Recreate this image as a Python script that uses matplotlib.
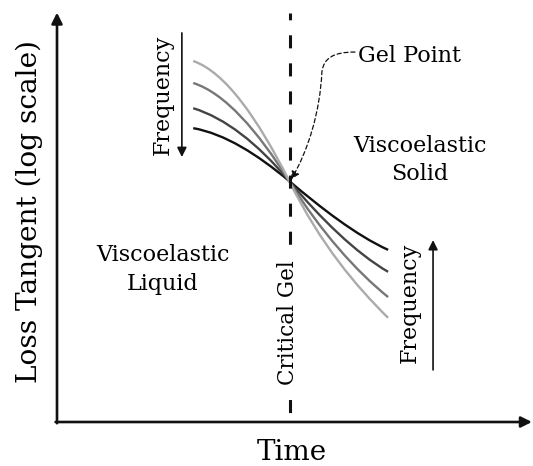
import matplotlib.pyplot as plt
from matplotlib.path import Path
from matplotlib.patches import PathPatch, FancyArrowPatch

plt.rcParams['font.family'] = ['DejaVu Serif']
plt.rcParams['lines.scale_dashes'] = False

# schematic units: time and log(tan delta) both run 0..100 along the arrows
gel_time = 49.1
gel_tan = 59.2

# bezier vertices (time, log tan delta) of each curve, low -> high frequency
curve_colors = ['#111111', '#444444', '#777777', '#ababab']
curve_time = [28.8, 35.5, 42.3, 49.1, 55.8, 63.2, 70.0]
curve_tan = [
    [72.2, 70.8, 65.8, 59.2, 52.6, 45.9, 42.3],
    [77.1, 74.7, 68.6, 59.2, 49.9, 41.5, 36.9],
    [83.3, 80.8, 71.7, 59.2, 46.7, 37.1, 30.7],
    [88.7, 86.0, 74.9, 59.2, 43.5, 33.4, 25.6],
]

# dashed leader from the "Gel Point" label down to the crossing
leader_time = [63.0, 58.5, 56.4, 56.0, 55.6, 53.0, 49.5]
leader_tan = [90.9, 90.9, 89.5, 86.0, 76.0, 66.5, 59.6]

fig = plt.figure(figsize=(5.33, 4.66), dpi=100)
ax = fig.add_axes([0, 0, 1, 1])
ax.set_xlim(-12.05, 100.63)
ax.set_ylim(-10.81, 103.69)
ax.axis('off')

codes = [Path.MOVETO] + [Path.CURVE4] * 6
for col, ys in zip(curve_colors, curve_tan):
    path = Path(list(zip(curve_time, ys)), codes)
    ax.add_patch(PathPatch(path, fc='none', ec=col, lw=1.7, capstyle='butt'))

# axes arrows
ax.annotate('', xy=(0, 100.6), xytext=(0, -0.3),
            arrowprops=dict(arrowstyle='-|>', lw=1.9, color='#111111',
                            mutation_scale=16, shrinkA=0, shrinkB=0))
ax.annotate('', xy=(100.4, 0), xytext=(-0.3, 0),
            arrowprops=dict(arrowstyle='-|>', lw=1.9, color='#111111',
                            mutation_scale=16, shrinkA=0, shrinkB=0))

# critical gel line
ax.plot([gel_time + 0.2, gel_time + 0.2], [100.6, 0.8], color='#111111',
        lw=2.2, ls=(4.5, (9.4, 10.8)))
ax.text(gel_time - 0.3, 24.3, 'Critical Gel', rotation=90, fontsize=15.5,
        ha='center', va='center',
        bbox=dict(fc='white', ec='none', pad=1))

ax.text(-5.95, 51.8, 'Loss Tangent (log scale)', rotation=90, fontsize=20.2,
        ha='center', va='center')
ax.text(49.7, -7.6, 'Time', fontsize=20, ha='center', va='center')

# frequency arrows
ax.annotate('', xy=(26.4, 65.1), xytext=(26.4, 95.6),
            arrowprops=dict(arrowstyle='-|>', lw=1.2, color='#111111',
                            mutation_scale=14, shrinkA=0, shrinkB=0))
ax.text(22.4, 80.3, 'Frequency', rotation=90, fontsize=16,
        ha='center', va='center')
ax.annotate('', xy=(79.5, 44.7), xytext=(79.5, 12.8),
            arrowprops=dict(arrowstyle='-|>', lw=1.2, color='#111111',
                            mutation_scale=14, shrinkA=0, shrinkB=0))
ax.text(74.6, 29.2, 'Frequency', rotation=90, fontsize=16,
        ha='center', va='center')

ax.text(76.7, 64.4, 'Viscoelastic\nSolid', fontsize=16, ha='center',
        va='center', linespacing=1.4)
ax.text(22.4, 37.4, 'Viscoelastic\nLiquid', fontsize=16, ha='center',
        va='center', linespacing=1.4)

ax.text(63.6, 89.9, 'Gel Point', fontsize=16, ha='left', va='center')
leader = Path(list(zip(leader_time, leader_tan)), codes)
ax.add_patch(FancyArrowPatch(path=leader, arrowstyle='-|>', lw=0.9,
                             ls=(0, (3, 2)), color='#111111',
                             mutation_scale=12, transform=ax.transData))

fig.savefig('out.png', dpi=100)
